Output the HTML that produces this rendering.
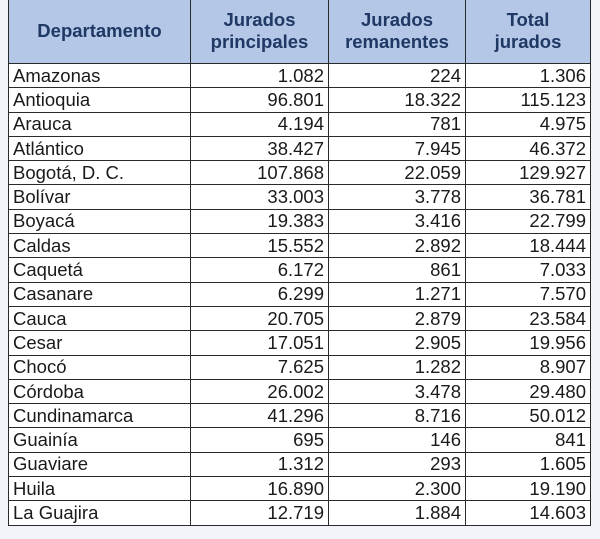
<!DOCTYPE html>
<html><head><style>
body{margin:0;width:600px;height:539px;background:#f1f4f8;overflow:hidden;font-family:"Liberation Sans",sans-serif;}
table{position:absolute;left:8px;top:-2px;border-collapse:collapse;table-layout:fixed;width:582px;}
td,th{border:1.5px solid #2a2a2a;padding:0 4px;font-size:18.5px;color:#1a1a1a;white-space:nowrap;}
th{background:#b4c7e7;color:#1f3864;font-size:18.5px;font-weight:bold;height:64px;line-height:22px;text-align:center;}
tr.r td{height:23.3px;line-height:20px;background:#fff;}
td.n{text-align:right;}
</style></head><body>
<table>
<colgroup><col style="width:182px"><col style="width:138px"><col style="width:137px"><col style="width:125px"></colgroup>
<tr><th>Departamento</th><th>Jurados<br>principales</th><th>Jurados<br>remanentes</th><th>Total<br>jurados</th></tr>
<tr class="r"><td>Amazonas</td><td class="n">1.082</td><td class="n">224</td><td class="n">1.306</td></tr>
<tr class="r"><td>Antioquia</td><td class="n">96.801</td><td class="n">18.322</td><td class="n">115.123</td></tr>
<tr class="r"><td>Arauca</td><td class="n">4.194</td><td class="n">781</td><td class="n">4.975</td></tr>
<tr class="r"><td>Atlántico</td><td class="n">38.427</td><td class="n">7.945</td><td class="n">46.372</td></tr>
<tr class="r"><td>Bogotá, D. C.</td><td class="n">107.868</td><td class="n">22.059</td><td class="n">129.927</td></tr>
<tr class="r"><td>Bolívar</td><td class="n">33.003</td><td class="n">3.778</td><td class="n">36.781</td></tr>
<tr class="r"><td>Boyacá</td><td class="n">19.383</td><td class="n">3.416</td><td class="n">22.799</td></tr>
<tr class="r"><td>Caldas</td><td class="n">15.552</td><td class="n">2.892</td><td class="n">18.444</td></tr>
<tr class="r"><td>Caquetá</td><td class="n">6.172</td><td class="n">861</td><td class="n">7.033</td></tr>
<tr class="r"><td>Casanare</td><td class="n">6.299</td><td class="n">1.271</td><td class="n">7.570</td></tr>
<tr class="r"><td>Cauca</td><td class="n">20.705</td><td class="n">2.879</td><td class="n">23.584</td></tr>
<tr class="r"><td>Cesar</td><td class="n">17.051</td><td class="n">2.905</td><td class="n">19.956</td></tr>
<tr class="r"><td>Chocó</td><td class="n">7.625</td><td class="n">1.282</td><td class="n">8.907</td></tr>
<tr class="r"><td>Córdoba</td><td class="n">26.002</td><td class="n">3.478</td><td class="n">29.480</td></tr>
<tr class="r"><td>Cundinamarca</td><td class="n">41.296</td><td class="n">8.716</td><td class="n">50.012</td></tr>
<tr class="r"><td>Guainía</td><td class="n">695</td><td class="n">146</td><td class="n">841</td></tr>
<tr class="r"><td>Guaviare</td><td class="n">1.312</td><td class="n">293</td><td class="n">1.605</td></tr>
<tr class="r"><td>Huila</td><td class="n">16.890</td><td class="n">2.300</td><td class="n">19.190</td></tr>
<tr class="r"><td>La Guajira</td><td class="n">12.719</td><td class="n">1.884</td><td class="n">14.603</td></tr>
</table>
</body></html>
